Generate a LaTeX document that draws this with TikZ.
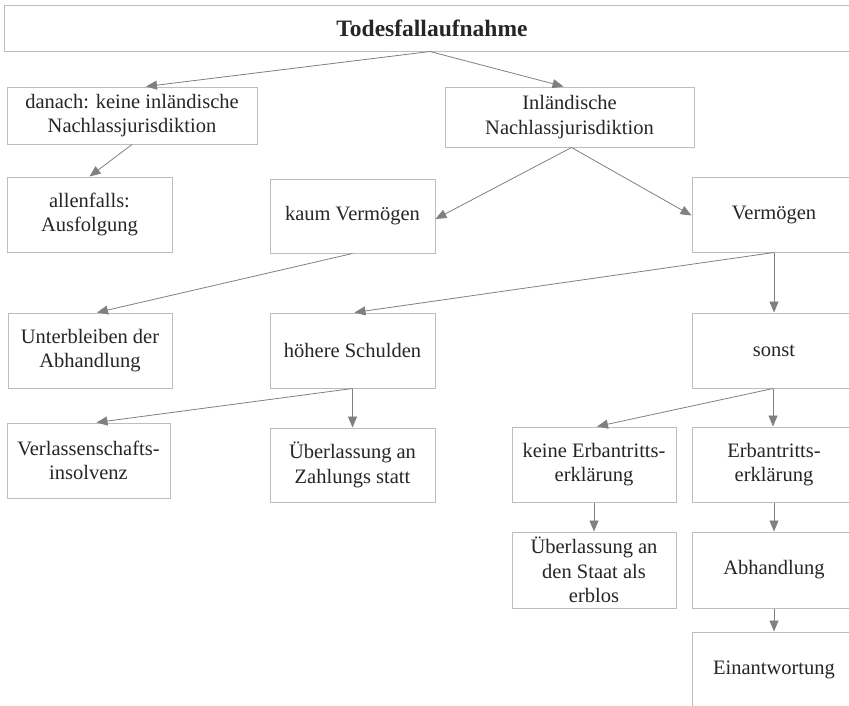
\documentclass[tikz,border=0pt]{standalone}
\usepackage{fontspec}
\setmainfont{Liberation Serif}
\usetikzlibrary{arrows.meta}
\definecolor{boxgray}{HTML}{BDBDBD}
\definecolor{arrowgray}{HTML}{808080}
\definecolor{txt}{HTML}{262626}
\begin{document}
\begin{tikzpicture}[x=1pt,y=-1pt,
  box/.style={draw=boxgray,line width=1pt,rectangle,inner sep=0pt,align=center,
    text=txt,font=\fontsize{20.5}{24.5}\selectfont},
  conn/.style={draw=arrowgray,line width=0.8pt,-{Triangle[length=11pt,width=9pt]},arrowgray},
]
\useasboundingbox (0,0) rectangle (849,705);
\clip (0,0) rectangle (849,705);
\fill[white] (0,0) rectangle (849,705);

\node[box,minimum width=856pt,minimum height=46pt,font=\fontsize{23.5}{26}\selectfont\bfseries] (title) at (432,28) {Todesfallaufnahme};
\node[box,minimum width=250pt,minimum height=57pt] (danach) at (132,115.5) {danach: keine inländische\\Nachlassjurisdiktion};
\node[box,minimum width=249pt,minimum height=60pt] (inl) at (569.5,117) {Inländische\\Nachlassjurisdiktion};
\node[box,minimum width=165pt,minimum height=75pt] (allenf) at (89.5,214.5) {allenfalls:\\Ausfolgung};
\node[box,minimum width=165pt,minimum height=74pt] (kaum) at (352.5,216) {kaum Vermögen};
\node[box,minimum width=164pt,minimum height=75pt] (verm) at (774,214.5) {Vermögen};
\node[box,minimum width=164pt,minimum height=75pt] (unter) at (90,350.5) {Unterbleiben der\\Abhandlung};
\node[box,minimum width=165pt,minimum height=75pt] (hoeher) at (352.5,350.5) {höhere Schulden};
\node[box,minimum width=164pt,minimum height=75pt] (sonst) at (774,350.5) {sonst};
\node[box,minimum width=163pt,minimum height=75pt] (verlass) at (88.5,460.5) {Verlassenschafts-\\insolvenz};
\node[box,minimum width=165pt,minimum height=74pt] (uebzahl) at (352.5,465) {Überlassung an\\Zahlungs statt};
\node[box,minimum width=164pt,minimum height=75pt] (keine) at (594,464.5) {keine Erbantritts-\\erklärung};
\node[box,minimum width=164pt,minimum height=75pt] (erbantr) at (774,464.5) {Erbantritts-\\erklärung};
\node[box,minimum width=164pt,minimum height=76pt] (uebstaat) at (594,570) {Überlassung an\\den Staat als\\erblos};
\node[box,minimum width=164pt,minimum height=76pt] (abh) at (774,570) {Abhandlung};
\node[box,minimum width=164pt,minimum height=75pt] (einantw) at (774,669.5) {Einantwortung};

\draw[conn] ([xshift=-2pt]title.south) -- ([xshift=14pt]danach.north);
\draw[conn] ([xshift=-2pt]title.south) -- ([xshift=-6pt]inl.north);
\draw[conn] (danach.south) -- (allenf.north);
\draw[conn] ([xshift=2pt]inl.south) -- ([yshift=-3pt]kaum.east);
\draw[conn] ([xshift=2pt]inl.south) -- ([yshift=-1pt]verm.west);
\draw[conn] (kaum.south) -- ([xshift=7pt]unter.north);
\draw[conn] (verm.south) -- ([xshift=2pt]hoeher.north);
\draw[conn] (verm.south) -- (sonst.north);
\draw[conn] (hoeher.south) -- ([xshift=8pt]verlass.north);
\draw[conn] (hoeher.south) -- (uebzahl.north);
\draw[conn] ([xshift=-1pt]sonst.south) -- ([xshift=3pt]keine.north);
\draw[conn] ([xshift=-1pt]sonst.south) -- ([xshift=-1pt]erbantr.north);
\draw[conn] (keine.south) -- (uebstaat.north);
\draw[conn] (erbantr.south) -- (abh.north);
\draw[conn] (abh.south) -- (einantw.north);
\end{tikzpicture}
\end{document}
